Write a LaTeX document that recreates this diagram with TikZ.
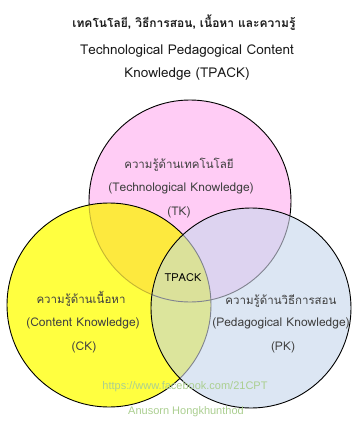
\documentclass[tikz,border=0pt]{standalone}
\usepackage{fontspec}
\setmainfont{Loma}[Script=Thai]
\newfontfamily\webfont{Liberation Sans}

\definecolor{tkfill}{HTML}{FFCCF5}
\definecolor{ckfill}{HTML}{FFFF40}
\definecolor{pkfill}{HTML}{DCE6F3}
\definecolor{tkck}{HTML}{FDE93E}
\definecolor{tkpk}{HTML}{DDD3F0}
\definecolor{ckpk}{HTML}{DCE59C}
\definecolor{allthree}{HTML}{DBE19A}
\definecolor{edgeinck}{HTML}{C4B532}
\definecolor{edgeinpk}{HTML}{80838F}
\definecolor{labeltext}{HTML}{404040}
\definecolor{titletext}{HTML}{1A1A1A}
\definecolor{credit}{HTML}{ABCF90}

\tikzset{
  ring/.style={line width=0.9pt, draw=black},
  titlethai/.style={inner sep=0pt, font=\fontsize{12}{14}\bfseries, text=titletext},
  titleline/.style={inner sep=0pt, font=\fontsize{13.5}{15}\selectfont, text=titletext},
  thailabel/.style={inner sep=0pt, font=\fontsize{11.5}{13}\selectfont, text=labeltext},
  setlabel/.style={inner sep=0pt, font=\fontsize{12}{14}\selectfont, text=labeltext},
  corelabel/.style={inner sep=0pt, font=\fontsize{11}{12}\selectfont, text=black},
  creditline/.style={inner sep=0pt, font=\webfont\fontsize{11}{12}\selectfont, text=credit}
}

\begin{document}
\begin{tikzpicture}[x=1pt,y=-1pt]
  \fill[white] (0,0) rectangle (352,432);
  \useasboundingbox (0,0) rectangle (352,432);

  \coordinate (tk) at (190,201);
  \coordinate (ck) at (109,305);
  \coordinate (pk) at (251,308);

  % technological knowledge
  \fill[tkfill] (tk) circle[radius=101pt];
  \draw[ring] (tk) circle[radius=101pt];

  % content knowledge, with its overlap on TK
  \fill[ckfill] (ck) circle[radius=102pt];
  \begin{scope}
    \clip (ck) circle[radius=102pt];
    \fill[tkck] (tk) circle[radius=101pt];
    \draw[ring, draw=edgeinck] (tk) circle[radius=101pt];
  \end{scope}
  \draw[ring] (ck) circle[radius=102pt];

  % pedagogical knowledge, with its overlaps
  \fill[pkfill] (pk) circle[radius=100pt];
  \begin{scope}
    \clip (pk) circle[radius=100pt];
    \fill[tkpk] (tk) circle[radius=101pt];
    \fill[ckpk] (ck) circle[radius=102pt];
    \begin{scope}
      \clip (ck) circle[radius=102pt];
      \fill[allthree] (tk) circle[radius=101pt];
    \end{scope}
    \draw[ring, draw=edgeinpk] (tk) circle[radius=101pt];
    \draw[ring, draw=edgeinpk] (ck) circle[radius=102pt];
  \end{scope}
  \draw[ring] (pk) circle[radius=100pt];

  % heading
  \node[titlethai] (head1) at (184,23) {เทคโนโลยี, วิธีการสอน, เนื้อหา และความรู้};
  \node[titleline] (head2) at (187,51) {Technological Pedagogical Content};
  \node[titleline] (head3) at (187,74) {Knowledge (TPACK)};

  % TK labels
  \node[thailabel] (tkthai) at (179,165) {ความรู้ด้านเทคโนโลยี};
  \node[setlabel] (tkeng) at (181,188) {(Technological Knowledge)};
  \node[setlabel] (tkabbr) at (179,212) {(TK)};

  % CK labels
  \node[thailabel] (ckthai) at (81,299) {ความรู้ด้านเนื้อหา};
  \node[setlabel] (ckeng) at (83,323) {(Content Knowledge)};
  \node[setlabel] (ckabbr) at (84,347) {(CK)};

  % PK labels
  \node[thailabel] (pkthai) at (281,301) {ความรู้ด้านวิธีการสอน};
  \node[setlabel] (pkeng) at (281,323) {(Pedagogical Knowledge)};
  \node[setlabel] (pkabbr) at (283,347) {(PK)};

  % centre
  \node[corelabel] (tpack) at (183,278) {TPACK};

  % credits
  \node[creditline] (url) at (185,387) {https://www.facebook.com/21CPT};
  \node[creditline] (author) at (186,412) {Anusorn Hongkhunthod};
\end{tikzpicture}
\end{document}
